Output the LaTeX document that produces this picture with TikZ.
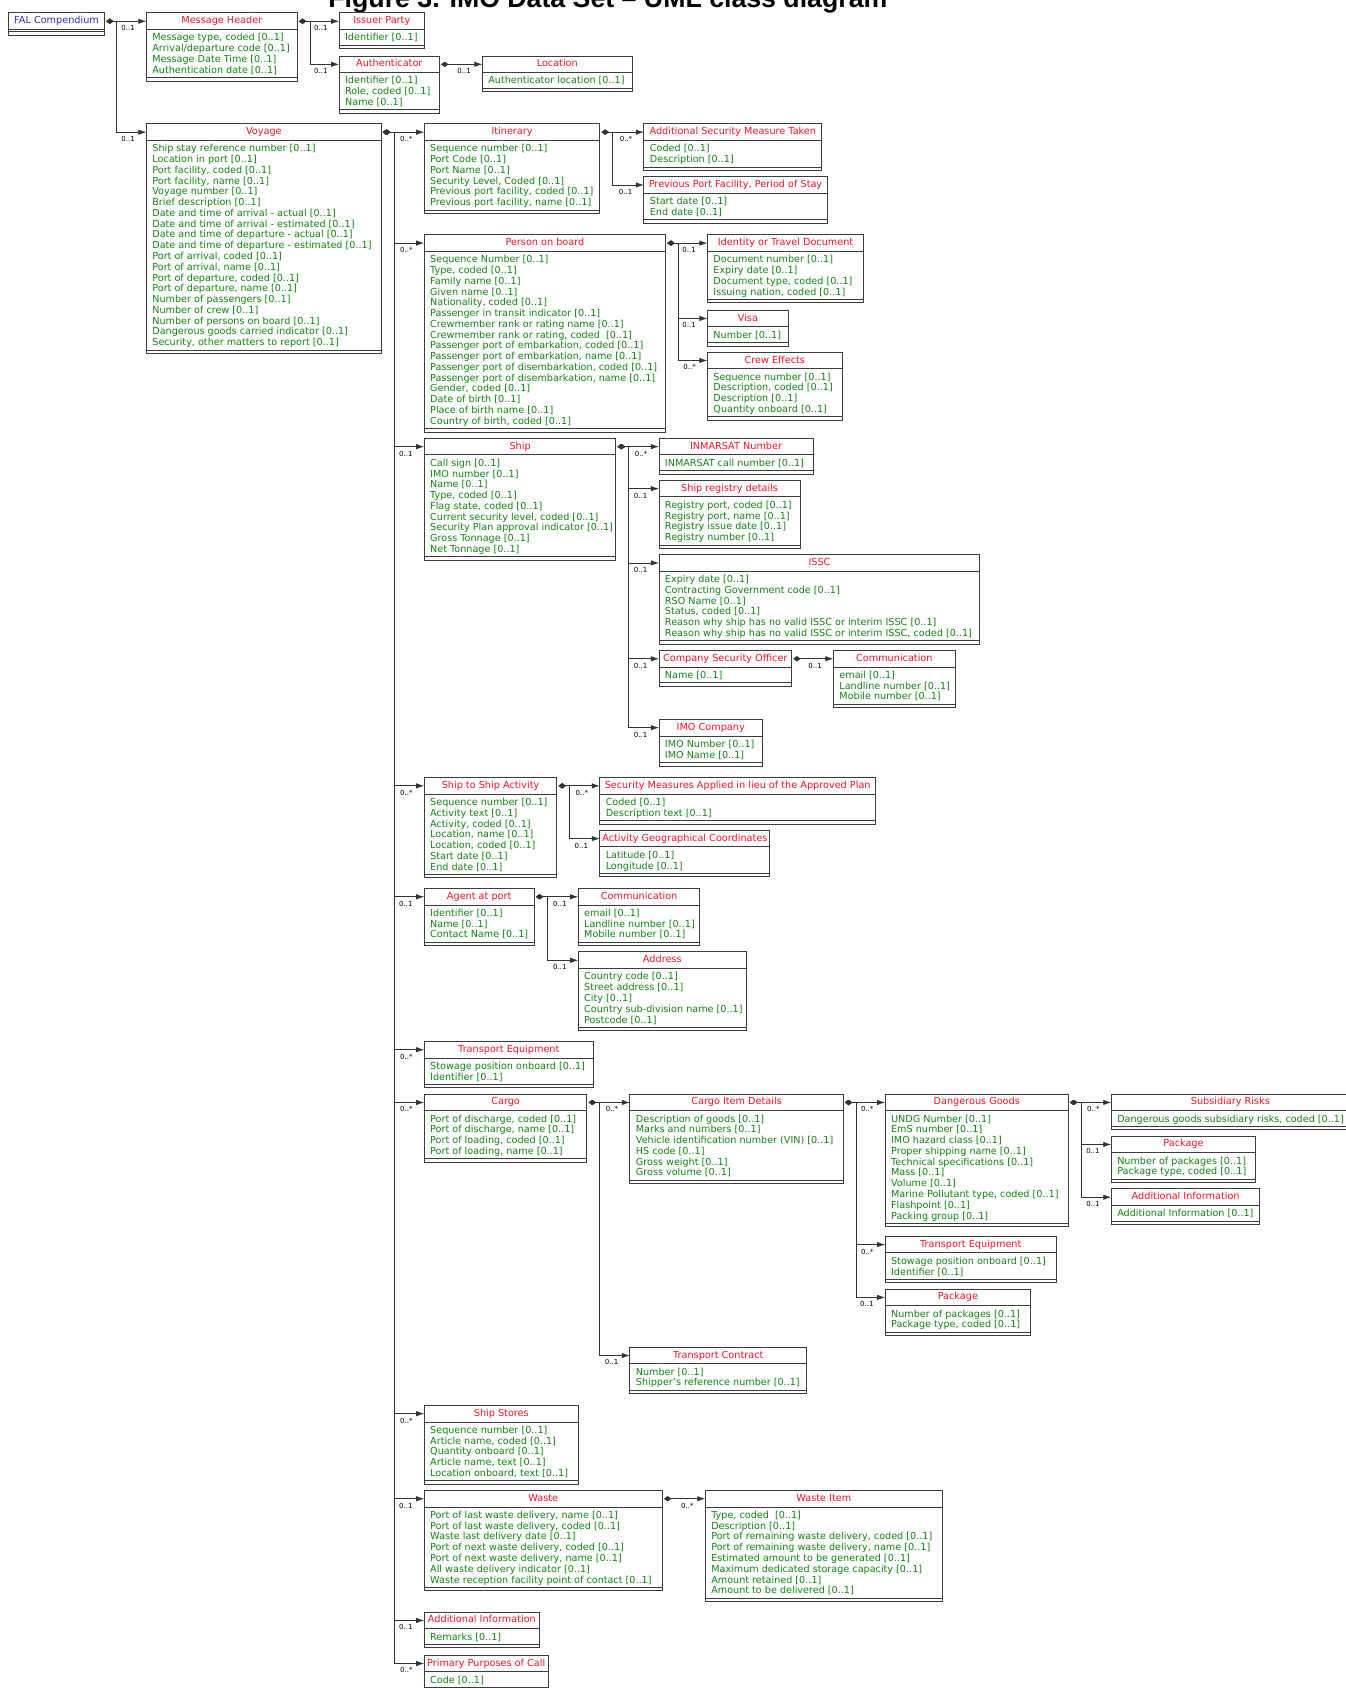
\documentclass[tikz,border=0pt]{standalone}
\usepackage{fontspec}
\setmainfont{DejaVu Sans}
\newfontfamily\figfont{Liberation Sans}
\usetikzlibrary{arrows.meta}

\definecolor{clsred}{RGB}{240,20,40}
\definecolor{attrgreen}{RGB}{20,130,20}
\definecolor{falblue}{RGB}{45,45,190}
\definecolor{boxgray}{RGB}{60,60,60}

\tikzset{every picture/.style={line width=0.9pt}}
\tikzset{
  clstitle/.style={draw=boxgray, anchor=north west, outer sep=0pt, inner xsep=2pt, inner ysep=0pt,
    minimum height=15.5pt, text height=6.6pt, text depth=1.9pt, text=clsred, font=\fontsize{9}{10}\selectfont},
  clsattr/.style={anchor=north west, outer sep=0pt, inner xsep=5.5pt, inner ysep=0pt, align=left,
    text=attrgreen, font=\fontsize{8.95}{10}\selectfont},
  clsline/.style={draw=boxgray},
  comp/.style={draw=black!80, line width=0.8pt, {Diamond[length=7pt,width=5pt]}-{Latex[length=7.5pt,width=5pt]}, shorten <=1.5pt},
  mult/.style={anchor=north east, inner xsep=10.5pt, inner ysep=3.5pt, text=black, font=\fontsize{6.5}{7}\selectfont},
  figtitle/.style={anchor=base, inner sep=0pt, font=\figfont\fontsize{24.8}{28}\selectfont\bfseries}
}

% class box: name, x, y, width, title, attributes
\newcommand{\umlclass}[6]{%
  \node[clstitle, minimum width=#4] (#1) at (#2,#3) {#5};
  \node[clsattr] (#1a) at (#1.south west) {\rule{0pt}{10.5pt}#6\rule[-4.1pt]{0pt}{4.1pt}};
  \draw[clsline] (#1.south west) rectangle (#1.east |- #1a.south);
  \draw[clsline] (#1.south west |- #1a.south) rectangle ++(#4,3.2);
}

\begin{document}
\begin{tikzpicture}[x=1pt,y=1pt,yscale=-1,xscale=1]
\useasboundingbox (0,0) rectangle (1249,1567.5);

% Text Node
\node[figtitle] (figtitle) at (564.5,7) {Figure 3. IMO Data Set – UML class diagram};

%Shape: Class [FAL Compendium]
\node[clstitle, text=falblue, minimum width=89] (fal) at (8,12) {FAL Compendium};
\draw[clsline] (fal.south west) rectangle ++(89,2) ++(-89,0) rectangle ++(89,3);

%Shape: Class [Message Header]
\umlclass{mhead}{136}{12}{140}{Message Header}{Message type, coded [0..1]\\Arrival/departure code [0..1]\\Message Date Time [0..1]\\Authentication date [0..1]}
\umlclass{issuer}{315}{12}{79}{Issuer Party}{Identifier [0..1]}
\umlclass{authent}{315}{52}{93}{Authenticator}{Identifier [0..1]\\Role, coded [0..1]\\Name [0..1]}
\umlclass{loc}{448}{52}{139}{Location}{Authenticator location [0..1]}

%Shape: Class [Voyage]
\umlclass{voyage}{136}{115}{218}{Voyage}{Ship stay reference number [0..1]\\Location in port [0..1]\\Port facility, coded [0..1]\\Port facility, name [0..1]\\Voyage number [0..1]\\Brief description [0..1]\\Date and time of arrival - actual [0..1]\\Date and time of arrival - estimated [0..1]\\Date and time of departure - actual [0..1]\\Date and time of departure - estimated [0..1]\\Port of arrival, coded [0..1]\\Port of arrival, name [0..1]\\Port of departure, coded [0..1]\\Port of departure, name [0..1]\\Number of passengers [0..1]\\Number of crew [0..1]\\Number of persons on board [0..1]\\Dangerous goods carried indicator [0..1]\\Security, other matters to report [0..1]}

%Shape: Class [Itinerary]
\umlclass{itin}{394}{115}{163}{Itinerary}{Sequence number [0..1]\\Port Code [0..1]\\Port Name [0..1]\\Security Level, Coded [0..1]\\Previous port facility, coded [0..1]\\Previous port facility, name [0..1]}
\umlclass{addsec}{598}{115}{165}{Additional Security Measure Taken}{Coded [0..1]\\Description [0..1]}
\umlclass{prevport}{598}{164}{170}{Previous Port Facility, Period of Stay}{Start date [0..1]\\End date [0..1]}

%Shape: Class [Person on board]
\umlclass{pob}{394}{218}{224}{Person on board}{Sequence Number [0..1]\\Type, coded [0..1]\\Family name [0..1]\\Given name [0..1]\\Nationality, coded [0..1]\\Passenger in transit indicator [0..1]\\Crewmember rank or rating name [0..1]\\Crewmember rank or rating, coded \ [0..1]\\Passenger port of embarkation, coded [0..1]\\Passenger port of embarkation, name [0..1]\\Passenger port of disembarkation, coded [0..1]\\Passenger port of disembarkation, name [0..1]\\Gender, coded [0..1]\\Date of birth [0..1]\\Place of birth name [0..1]\\Country of birth, coded [0..1]}
\umlclass{iddoc}{657}{218}{145}{Identity or Travel Document}{Document number [0..1]\\Expiry date [0..1]\\Document type, coded [0..1]\\Issuing nation, coded [0..1]}
\umlclass{visa}{657}{288}{75}{Visa}{Number [0..1]}
\umlclass{crew}{657}{327}{125}{Crew Effects}{Sequence number [0..1]\\Description, coded [0..1]\\Description [0..1]\\Quantity onboard [0..1]}

%Shape: Class [Ship]
\umlclass{ship}{394}{407}{178}{Ship}{Call sign [0..1]\\IMO number [0..1]\\Name [0..1]\\Type, coded [0..1]\\Flag state, coded [0..1]\\Current security level, coded [0..1]\\Security Plan approval indicator [0..1]\\Gross Tonnage [0..1]\\Net Tonnage [0..1]}
\umlclass{inmarsat}{612}{407}{143}{INMARSAT Number}{INMARSAT call number [0..1]}
\umlclass{shipreg}{612}{446}{131}{Ship registry details}{Registry port, coded [0..1]\\Registry port, name [0..1]\\Registry issue date [0..1]\\Registry number [0..1]}
\umlclass{issc}{612}{515}{298}{ISSC}{Expiry date [0..1]\\Contracting Government code [0..1]\\RSO Name [0..1]\\Status, coded [0..1]\\Reason why ship has no valid ISSC or interim ISSC [0..1]\\Reason why ship has no valid ISSC or interim ISSC, coded [0..1]}
\umlclass{cso}{612}{604}{123}{Company Security Officer}{Name [0..1]}
\umlclass{csocomm}{774}{604}{113}{Communication}{email [0..1]\\Landline number [0..1]\\Mobile number [0..1]}
\umlclass{imoco}{612}{668}{96}{IMO Company}{IMO Number [0..1]\\IMO Name [0..1]}

%Shape: Class [Ship to Ship Activity]
\umlclass{sts}{394}{722}{123}{Ship to Ship Activity}{Sequence number [0..1]\\Activity text [0..1]\\Activity, coded [0..1]\\Location, name [0..1]\\Location, coded [0..1]\\Start date [0..1]\\End date [0..1]}
\umlclass{secmeas}{557}{722}{256}{Security Measures Applied in lieu of the Approved Plan}{Coded [0..1]\\Description text [0..1]}
\umlclass{actgeo}{557}{771}{158}{Activity Geographical Coordinates}{Latitude [0..1]\\Longitude [0..1]}

%Shape: Class [Agent at port]
\umlclass{agent}{394}{825}{102}{Agent at port}{Identifier [0..1]\\Name [0..1]\\Contact Name [0..1]}
\umlclass{agcomm}{537}{825}{113}{Communication}{email [0..1]\\Landline number [0..1]\\Mobile number [0..1]}
\umlclass{address}{537}{884}{156}{Address}{Country code [0..1]\\Street address [0..1]\\City [0..1]\\Country sub-division name [0..1]\\Postcode [0..1]}

%Shape: Class [Transport Equipment]
\umlclass{teq}{394}{967}{157}{Transport Equipment}{Stowage position onboard [0..1]\\Identifier [0..1]}

%Shape: Class [Cargo]
\umlclass{cargo}{394}{1016}{151}{Cargo}{Port of discharge, coded [0..1]\\Port of discharge, name [0..1]\\Port of loading, coded [0..1]\\Port of loading, name [0..1]}
\umlclass{cid}{585}{1016}{198}{Cargo Item Details}{Description of goods [0..1]\\Marks and numbers [0..1]\\Vehicle identification number (VIN) [0..1]\\HS code [0..1]\\Gross weight [0..1]\\Gross volume [0..1]}
\umlclass{dgoods}{822}{1016}{170}{Dangerous Goods}{UNDG Number [0..1]\\EmS number [0..1]\\IMO hazard class [0..1]\\Proper shipping name [0..1]\\Technical specifications [0..1]\\Mass [0..1]\\Volume [0..1]\\Marine Pollutant type, coded [0..1]\\Flashpoint [0..1]\\Packing group [0..1]}
\umlclass{subrisk}{1032}{1016}{221}{Subsidiary Risks}{Dangerous goods subsidiary risks, coded [0..1]}
\umlclass{dpack}{1032}{1055}{134}{Package}{Number of packages [0..1]\\Package type, coded [0..1]}
\umlclass{dinfo}{1032}{1104}{138}{Additional Information}{Additional Information [0..1]}
\umlclass{cteq}{822}{1148}{159}{Transport Equipment}{Stowage position onboard [0..1]\\Identifier [0..1]}
\umlclass{cpack}{822}{1197}{135}{Package}{Number of packages [0..1]\\Package type, coded [0..1]}
\umlclass{tcontract}{585}{1251}{164}{Transport Contract}{Number [0..1]\\Shipper's reference number [0..1]}

%Shape: Class [Ship Stores]
\umlclass{stores}{394}{1305}{143}{Ship Stores}{Sequence number [0..1]\\Article name, coded [0..1]\\Quantity onboard [0..1]\\Article name, text [0..1]\\Location onboard, text [0..1]}

%Shape: Class [Waste]
\umlclass{waste}{394}{1384}{221}{Waste}{Port of last waste delivery, name [0..1]\\Port of last waste delivery, coded [0..1]\\Waste last delivery date [0..1]\\Port of next waste delivery, coded [0..1]\\Port of next waste delivery, name [0..1]\\All waste delivery indicator [0..1]\\Waste reception facility point of contact [0..1]}
\umlclass{wasteitem}{655}{1384}{220}{Waste Item}{Type, coded \ [0..1]\\Description [0..1]\\Port of remaining waste delivery, coded [0..1]\\Port of remaining waste delivery, name [0..1]\\Estimated amount to be generated [0..1]\\Maximum dedicated storage capacity [0..1]\\Amount retained [0..1]\\Amount to be delivered [0..1]}

%Shape: Class [Additional Information]
\umlclass{addinfo}{394}{1497}{107}{Additional Information}{Remarks [0..1]}
\umlclass{ppc}{394}{1537}{115}{Primary Purposes of Call}{Code [0..1]}

%Straight Lines [FAL Compendium]
\draw[comp] (fal.east) -- ++(11,0) |- (mhead.west) node[mult] {0..1};
\draw[comp] (fal.east) -- ++(11,0) |- (voyage.west) node[mult] {0..1};
%Straight Lines [Message Header]
\draw[comp] (mhead.east) -- ++(12,0) |- (issuer.west) node[mult] {0..1};
\draw[comp] (mhead.east) -- ++(12,0) |- (authent.west) node[mult] {0..1};
\draw[comp] (authent.east) -- (loc.west) node[mult] {0..1};

%Straight Lines [Voyage]
\draw[comp] (voyage.east) -- ++(12,0) |- (itin.west) node[mult] {0..*};
\draw[comp] (voyage.east) -- ++(12,0) |- (pob.west) node[mult] {0..*};
\draw[comp] (voyage.east) -- ++(12,0) |- (ship.west) node[mult] {0..1};
\draw[comp] (voyage.east) -- ++(12,0) |- (sts.west) node[mult] {0..*};
\draw[comp] (voyage.east) -- ++(12,0) |- (agent.west) node[mult] {0..1};
\draw[comp] (voyage.east) -- ++(12,0) |- (teq.west) node[mult] {0..*};
\draw[comp] (voyage.east) -- ++(12,0) |- (cargo.west) node[mult] {0..*};
\draw[comp] (voyage.east) -- ++(12,0) |- (stores.west) node[mult] {0..*};
\draw[comp] (voyage.east) -- ++(12,0) |- (waste.west) node[mult] {0..1};
\draw[comp] (voyage.east) -- ++(12,0) |- (addinfo.west) node[mult] {0..1};
\draw[comp] (voyage.east) -- ++(12,0) |- (ppc.west) node[mult] {0..*};

%Straight Lines [Itinerary]
\draw[comp] (itin.east) -- ++(12,0) |- (addsec.west) node[mult] {0..*};
\draw[comp] (itin.east) -- ++(12,0) |- (prevport.west) node[mult] {0..1};
%Straight Lines [Person on board]
\draw[comp] (pob.east) -- ++(12,0) |- (iddoc.west) node[mult] {0..1};
\draw[comp] (pob.east) -- ++(12,0) |- (visa.west) node[mult] {0..1};
\draw[comp] (pob.east) -- ++(12,0) |- (crew.west) node[mult] {0..*};
%Straight Lines [Ship]
\draw[comp] (ship.east) -- ++(12,0) |- (inmarsat.west) node[mult] {0..*};
\draw[comp] (ship.east) -- ++(12,0) |- (shipreg.west) node[mult] {0..1};
\draw[comp] (ship.east) -- ++(12,0) |- (issc.west) node[mult] {0..1};
\draw[comp] (ship.east) -- ++(12,0) |- (cso.west) node[mult] {0..1};
\draw[comp] (ship.east) -- ++(12,0) |- (imoco.west) node[mult] {0..1};
\draw[comp] (cso.east) -- (csocomm.west) node[mult] {0..1};
%Straight Lines [Ship to Ship Activity]
\draw[comp] (sts.east) -- ++(12,0) |- (secmeas.west) node[mult] {0..*};
\draw[comp] (sts.east) -- ++(12,0) |- (actgeo.west) node[mult] {0..1};
%Straight Lines [Agent at port]
\draw[comp] (agent.east) -- ++(12,0) |- (agcomm.west) node[mult] {0..1};
\draw[comp] (agent.east) -- ++(12,0) |- (address.west) node[mult] {0..1};
%Straight Lines [Cargo]
\draw[comp] (cargo.east) -- ++(12,0) |- (cid.west) node[mult] {0..*};
\draw[comp] (cargo.east) -- ++(12,0) |- (tcontract.west) node[mult] {0..1};
\draw[comp] (cid.east) -- ++(12,0) |- (dgoods.west) node[mult] {0..*};
\draw[comp] (cid.east) -- ++(12,0) |- (cteq.west) node[mult] {0..*};
\draw[comp] (cid.east) -- ++(12,0) |- (cpack.west) node[mult] {0..1};
\draw[comp] (dgoods.east) -- ++(12,0) |- (subrisk.west) node[mult] {0..*};
\draw[comp] (dgoods.east) -- ++(12,0) |- (dpack.west) node[mult] {0..1};
\draw[comp] (dgoods.east) -- ++(12,0) |- (dinfo.west) node[mult] {0..1};
%Straight Lines [Waste]
\draw[comp] (waste.east) -- (wasteitem.west) node[mult] {0..*};

\end{tikzpicture}
\end{document}
